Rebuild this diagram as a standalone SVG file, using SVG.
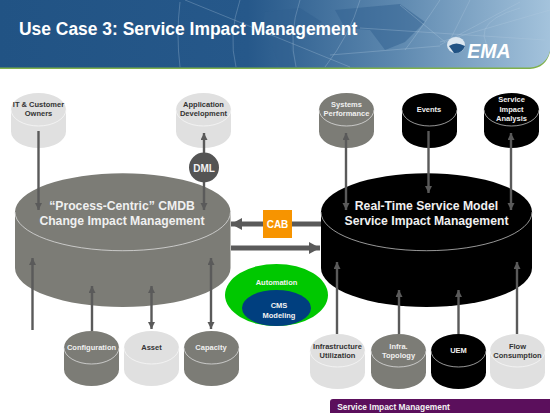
<svg xmlns="http://www.w3.org/2000/svg" width="550" height="413" viewBox="0 0 550 413">
<style>
text{font-family:"Liberation Sans",Arial,sans-serif;font-weight:bold;text-anchor:middle;stroke:none}
.s{font-size:7.500px}
.big{font-size:12.200px;fill:#f0f0f0}
.w{fill:#f0f0f0}.d{fill:#333}
.gray{fill:#7c7c76;stroke:#dcdcdc}
.lite{fill:#e0e0e0;stroke:#f6f6f6}
.blk{fill:#000;stroke:#bdbdbd}
.c line{stroke:#5a5a5a;stroke-width:2.400}
.grid{stroke:#b5cde0;stroke-width:.6;fill:none;opacity:.5}
.land{fill:#2f5f8f;opacity:.5}
</style>
<defs>
<linearGradient id="hd" x1="0" x2="1" y1="0" y2="0"><stop offset="0" stop-color="#215384"/><stop offset=".45" stop-color="#26588a"/><stop offset=".72" stop-color="#5d88af"/><stop offset="1" stop-color="#a4c3dc"/></linearGradient>
<marker id="ah" markerUnits="userSpaceOnUse" markerWidth="8" markerHeight="8" refX="7" refY="3.500" orient="auto-start-reverse"><path d="M0,0L7,3.500L0,7z" fill="#5a5a5a"/></marker>
<marker id="ahb" markerUnits="userSpaceOnUse" markerWidth="14" markerHeight="14" refX="11" refY="6" orient="auto"><path d="M0,0L11,6L0,12z" fill="#5a5a5a"/></marker>
<g id="cy">
<path stroke="none" d="M0,16.500A27.500,16.500 0 0 1 55,16.500V38.500A27.500,16.500 0 0 1 0,38.500z"/>
<path fill="none" stroke-width=".8" d="M0,16.500A27.500,16.500 0 0 0 55,16.500"/>
</g>
</defs>

<g id="header">
<path d="M0,0H550V52Q546,68 530,69H0z" fill="#7fb04a"/>
<path d="M0,0H550V51Q546,66 530,67.500H0z" fill="url(#hd)"/>
<path class="land" d="M265,12L300,8L322,22L300,30L290,46L296,67H280L272,46L262,30z"/>
<path class="land" d="M335,10L400,4L425,22L405,42L385,50L370,30L345,28z"/>
<path class="grid" d="M180,2Q176,35 180,67M240,0Q228,35 236,67M300,0Q288,35 296,67M185,0L350,67M360,0Q350,35 325,67M440,0Q420,30 405,50M520,2L440,45M550,10L440,42M545,40L360,28M330,55L440,46M400,5L445,42M470,0L450,40M500,60Q460,25 520,8"/>
<text x="19" y="34.500" style="font-size:17.450px;text-anchor:start;fill:#fff">Use Case 3: Service Impact Management</text>
<ellipse cx="456" cy="45" rx="9" ry="8" fill="#dce7f0"/>
<path d="M449,46Q456,41 465,46Q462,54 454,53z" fill="#215384"/>
<text x="489" y="58" style="font-size:19.500px;font-style:italic;fill:#fff">EMA</text>
</g>

<g id="it-owners" class="lite"><use href="#cy" x="11" y="93"/><text class="s d" x="38.500" y="107">IT &amp; Customer</text><text class="s d" x="38.500" y="116">Owners</text></g>
<g id="app-dev" class="lite"><use href="#cy" x="176" y="93"/><text class="s d" x="203.500" y="107">Application</text><text class="s d" x="203.500" y="116">Development</text></g>
<g id="sys-perf" class="gray"><use href="#cy" x="319" y="93"/><text class="s w" x="346.500" y="107">Systems</text><text class="s w" x="346.500" y="116">Performance</text></g>
<g id="events" class="blk"><use href="#cy" x="402" y="93"/><text class="s w" x="429" y="112">Events</text></g>
<g id="sia" class="blk"><use href="#cy" x="484" y="93"/><text class="s w" x="511.500" y="102">Service</text><text class="s w" x="511.500" y="112">Impact</text><text class="s w" x="511.500" y="121">Analysis</text></g>

<g id="cmdb" class="gray"><path stroke="none" d="M15,212A107.700,38.700 0 0 1 230.500,212V268A107.700,39 0 0 1 15,268z"/><path fill="none" stroke-width=".8" d="M15,212A107.700,38.700 0 0 0 230.500,212"/><text class="big" x="122" y="209.500">“Process-Centric” CMDB</text><text class="big" x="122" y="224.500">Change Impact Management</text></g>
<g id="rtsm" class="blk"><path stroke="none" d="M321,212A105.500,38.700 0 0 1 532,212V268A105.500,39 0 0 1 321,268z"/><path fill="none" stroke-width=".8" d="M321,212A105.500,38.700 0 0 0 532,212"/><text class="big" x="426.500" y="209.500">Real-Time Service Model</text><text class="big" x="426.500" y="224.500">Service Impact Management</text></g>

<g id="config" class="gray"><use href="#cy" x="64" y="331"/><text class="s w" x="91.500" y="350">Configuration</text></g>
<g id="asset" class="lite"><use href="#cy" x="124" y="331"/><text class="s d" x="151.500" y="350">Asset</text></g>
<g id="capacity" class="gray"><use href="#cy" x="184" y="331"/><text class="s w" x="211" y="350">Capacity</text></g>
<g id="infra-util" class="lite"><use href="#cy" x="310" y="334"/><text class="s d" x="337.500" y="349">Infrastructure</text><text class="s d" x="337.500" y="358">Utilization</text></g>
<g id="topology" class="gray"><use href="#cy" x="371" y="334"/><text class="s w" x="398.500" y="349">Infra.</text><text class="s w" x="398.500" y="358">Topology</text></g>
<g id="uem" class="blk"><use href="#cy" x="431" y="334"/><text class="s w" x="458.500" y="353">UEM</text></g>
<g id="flow" class="lite"><use href="#cy" x="490" y="334"/><text class="s d" x="517.500" y="349">Flow</text><text class="s d" x="517.500" y="358">Consumption</text></g>

<g id="connectors" class="c">
<line x1="38.500" y1="131" x2="38.500" y2="210" marker-end="url(#ah)"/>
<line x1="204" y1="133" x2="204" y2="210" marker-start="url(#ah)" marker-end="url(#ah)"/>
<line x1="346" y1="133" x2="346" y2="210" marker-start="url(#ah)" marker-end="url(#ah)"/>
<line x1="428.500" y1="131" x2="428.500" y2="193" marker-end="url(#ah)"/>
<line x1="511" y1="133" x2="511" y2="210" marker-start="url(#ah)" marker-end="url(#ah)"/>
<line x1="32.500" y1="330" x2="32.500" y2="258" marker-end="url(#ah)"/>
<line x1="92" y1="331" x2="92" y2="286" marker-end="url(#ah)"/>
<line x1="151.500" y1="329" x2="151.500" y2="286" marker-start="url(#ah)" marker-end="url(#ah)"/>
<line x1="211" y1="329" x2="211" y2="258" marker-start="url(#ah)" marker-end="url(#ah)"/>
<line x1="337" y1="334" x2="337" y2="262" marker-end="url(#ah)"/>
<line x1="399" y1="334" x2="399" y2="290" marker-end="url(#ah)"/>
<line x1="458.500" y1="334" x2="458.500" y2="290" marker-end="url(#ah)"/>
<line x1="517" y1="334" x2="517" y2="262" marker-end="url(#ah)"/>
<line x1="263" y1="224" x2="231" y2="224" style="stroke-width:5" marker-end="url(#ahb)"/>
<line x1="292" y1="224" x2="321" y2="224" style="stroke-width:5"/>
<line x1="231" y1="248" x2="320" y2="248" style="stroke-width:5" marker-end="url(#ahb)"/>
</g>

<g id="dml"><circle cx="204" cy="167.500" r="15" fill="#545454"/><text x="204" y="171.500" style="font-size:10px;fill:#f2f2f2">DML</text></g>
<g id="cab"><rect x="263" y="210" width="29" height="28" fill="#f79400"/><text x="277.500" y="228" style="font-size:10px;fill:#fff">CAB</text></g>
<g id="automation"><ellipse cx="276.500" cy="295" rx="51.500" ry="31" fill="#00c800"/><text x="276.500" y="285" style="font-size:7.500px;fill:#f2f2f2">Automation</text></g>
<g id="cms"><ellipse cx="276.500" cy="308" rx="34.500" ry="18" fill="#003f7f"/><text x="279" y="308" style="font-size:7.500px;fill:#f2f2f2">CMS</text><text x="279" y="317.500" style="font-size:7.500px;fill:#f2f2f2">Modeling</text></g>

<g id="footer"><path d="M333,399H550V413H330V402Q330,399 333,399z" fill="#5b0f5c"/><text x="393.500" y="409.500" style="font-size:8.400px;fill:#f2f2f2">Service Impact Management</text></g>
</svg>
